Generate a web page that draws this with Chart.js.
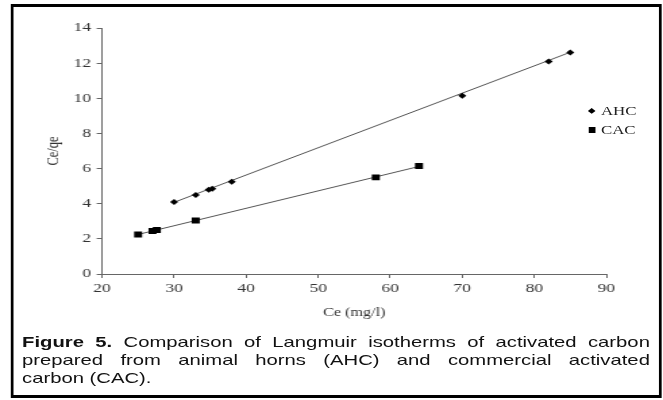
<!DOCTYPE html>
<html>
<head>
<meta charset="utf-8">
<script src="https://cdn.jsdelivr.net/npm/chart.js@4/dist/chart.umd.min.js"></script>
<style>
  html, body { margin: 0; padding: 0; background: #fff; overflow: hidden; }
  #wrap { position: absolute; left: 0; top: 0; width: 491px; height: 400px;
          transform-origin: 0 0; transform: scaleX(1.3503); }
  #frame { position: absolute; left: 8.3px; top: 4px; width: 478px; height: 388px;
           border-style: solid; border-color: #000; border-width: 3px 2.2px; }
  #chart { position: absolute; left: 0; top: 0; }
  .leg { position: absolute; font-family: "Liberation Serif", "Times New Roman", serif;
         font-size: 12.5px; color: #222; line-height: 14px; }
  .mk { position: absolute; background: #000; }
  #caption { position: absolute; left: 16.3px; top: 333px; width: 465px;
             font-family: "Liberation Sans", Arial, sans-serif; font-size: 15px;
             line-height: 18px; color: #111; }
  #caption .j { text-align: justify; text-align-last: justify; white-space: nowrap; }
</style>
</head>
<body>
<div id="wrap">
  <div id="frame"></div>
  <canvas id="chart" width="491" height="330"></canvas>
  <div class="mk" style="left:436.3px; top:108.8px; width:4.4px; height:4.4px; transform:rotate(45deg);"></div>
  <div class="leg" style="left:445px; top:104px;">AHC</div>
  <div class="mk" style="left:436px; top:127px; width:5px; height:6px;"></div>
  <div class="leg" style="left:445px; top:123px;">CAC</div>
  <div id="caption">
    <div class="j"><b>Figure 5.</b> Comparison of Langmuir isotherms of activated carbon</div>
    <div class="j">prepared from animal horns (AHC) and commercial activated</div>
    <div>carbon (CAC).</div>
  </div>
</div>
<script>
// ---- data ----
const ahcX = [30, 33, 34.8, 35.3, 38, 70, 82, 85];
const ahcY = [4.1, 4.5, 4.8, 4.85, 5.25, 10.15, 12.1, 12.6];
const cacX = [25, 27, 27.6, 33, 58, 64];
const cacY = [2.25, 2.45, 2.5, 3.05, 5.5, 6.15];
// trend lines (end points)
const ahcLineX = [30, 85];
const ahcLineY = [4.08, 12.62];
const cacLineX = [25, 64];
const cacLineY = [2.25, 6.12];
// tick labels
const xTicks = [20, 30, 40, 50, 60, 70, 80, 90];
const yTicks = [0, 2, 4, 6, 8, 10, 12, 14];
const seriesNames = ['AHC', 'CAC'];

const toPts = (xs, ys) => xs.map((x, i) => ({ x: x, y: ys[i] }));
const tickFont = { family: '"Liberation Serif", "Times New Roman", serif', size: 13 };

new Chart(document.getElementById('chart'), {
  type: 'scatter',
  data: {
    datasets: [
      { label: seriesNames[0] + ' fit', data: toPts(ahcLineX, ahcLineY), showLine: true,
        borderColor: '#555', borderWidth: 1, pointRadius: 0, order: 2 },
      { label: seriesNames[1] + ' fit', data: toPts(cacLineX, cacLineY), showLine: true,
        borderColor: '#555', borderWidth: 1, pointRadius: 0, order: 2 },
      { label: seriesNames[0], data: toPts(ahcX, ahcY), pointStyle: 'rectRot', pointRadius: 3,
        backgroundColor: '#000', borderColor: '#000', borderWidth: 0, order: 1 },
      { label: seriesNames[1], data: toPts(cacX, cacY), pointStyle: 'rect', pointRadius: 4.2,
        backgroundColor: '#000', borderColor: '#000', borderWidth: 0, order: 1 }
    ]
  },
  options: {
    responsive: false,
    animation: false,
    events: [],
    layout: { padding: { left: 30, right: 42, top: 28, bottom: 10 } },
    plugins: { legend: { display: false }, tooltip: { enabled: false } },
    scales: {
      x: {
        type: 'linear', min: xTicks[0], max: xTicks[xTicks.length - 1],
        afterBuildTicks: (s) => { s.ticks = xTicks.map(v => ({ value: v })); },
        afterFit: (s) => { s.height = 46; },
        border: { color: '#666', width: 1 },
        grid: { drawOnChartArea: false, drawTicks: true, tickLength: 4, color: '#666' },
        ticks: { font: tickFont, color: '#333', padding: 3, maxRotation: 0 },
        title: { display: true, text: 'Ce (mg/l)', color: '#333', padding: { top: 0, bottom: 0 },
                 font: { family: '"Liberation Serif", "Times New Roman", serif', size: 12 } }
      },
      y: {
        type: 'linear', min: yTicks[0], max: yTicks[yTicks.length - 1],
        afterBuildTicks: (s) => { s.ticks = yTicks.map(v => ({ value: v })); },
        afterFit: (s) => { s.width = 45.6; },
        border: { color: '#666', width: 1 },
        grid: { drawOnChartArea: false, drawTicks: true, tickLength: 4, color: '#666' },
        ticks: { font: tickFont, color: '#333', padding: 4 },
        title: { display: true, text: 'Ce/qe', color: '#333', padding: { top: 2, bottom: 0 },
                 font: { family: '"Liberation Serif", "Times New Roman", serif', size: 12.5 } }
      }
    }
  }
});
</script>
</body>
</html>
